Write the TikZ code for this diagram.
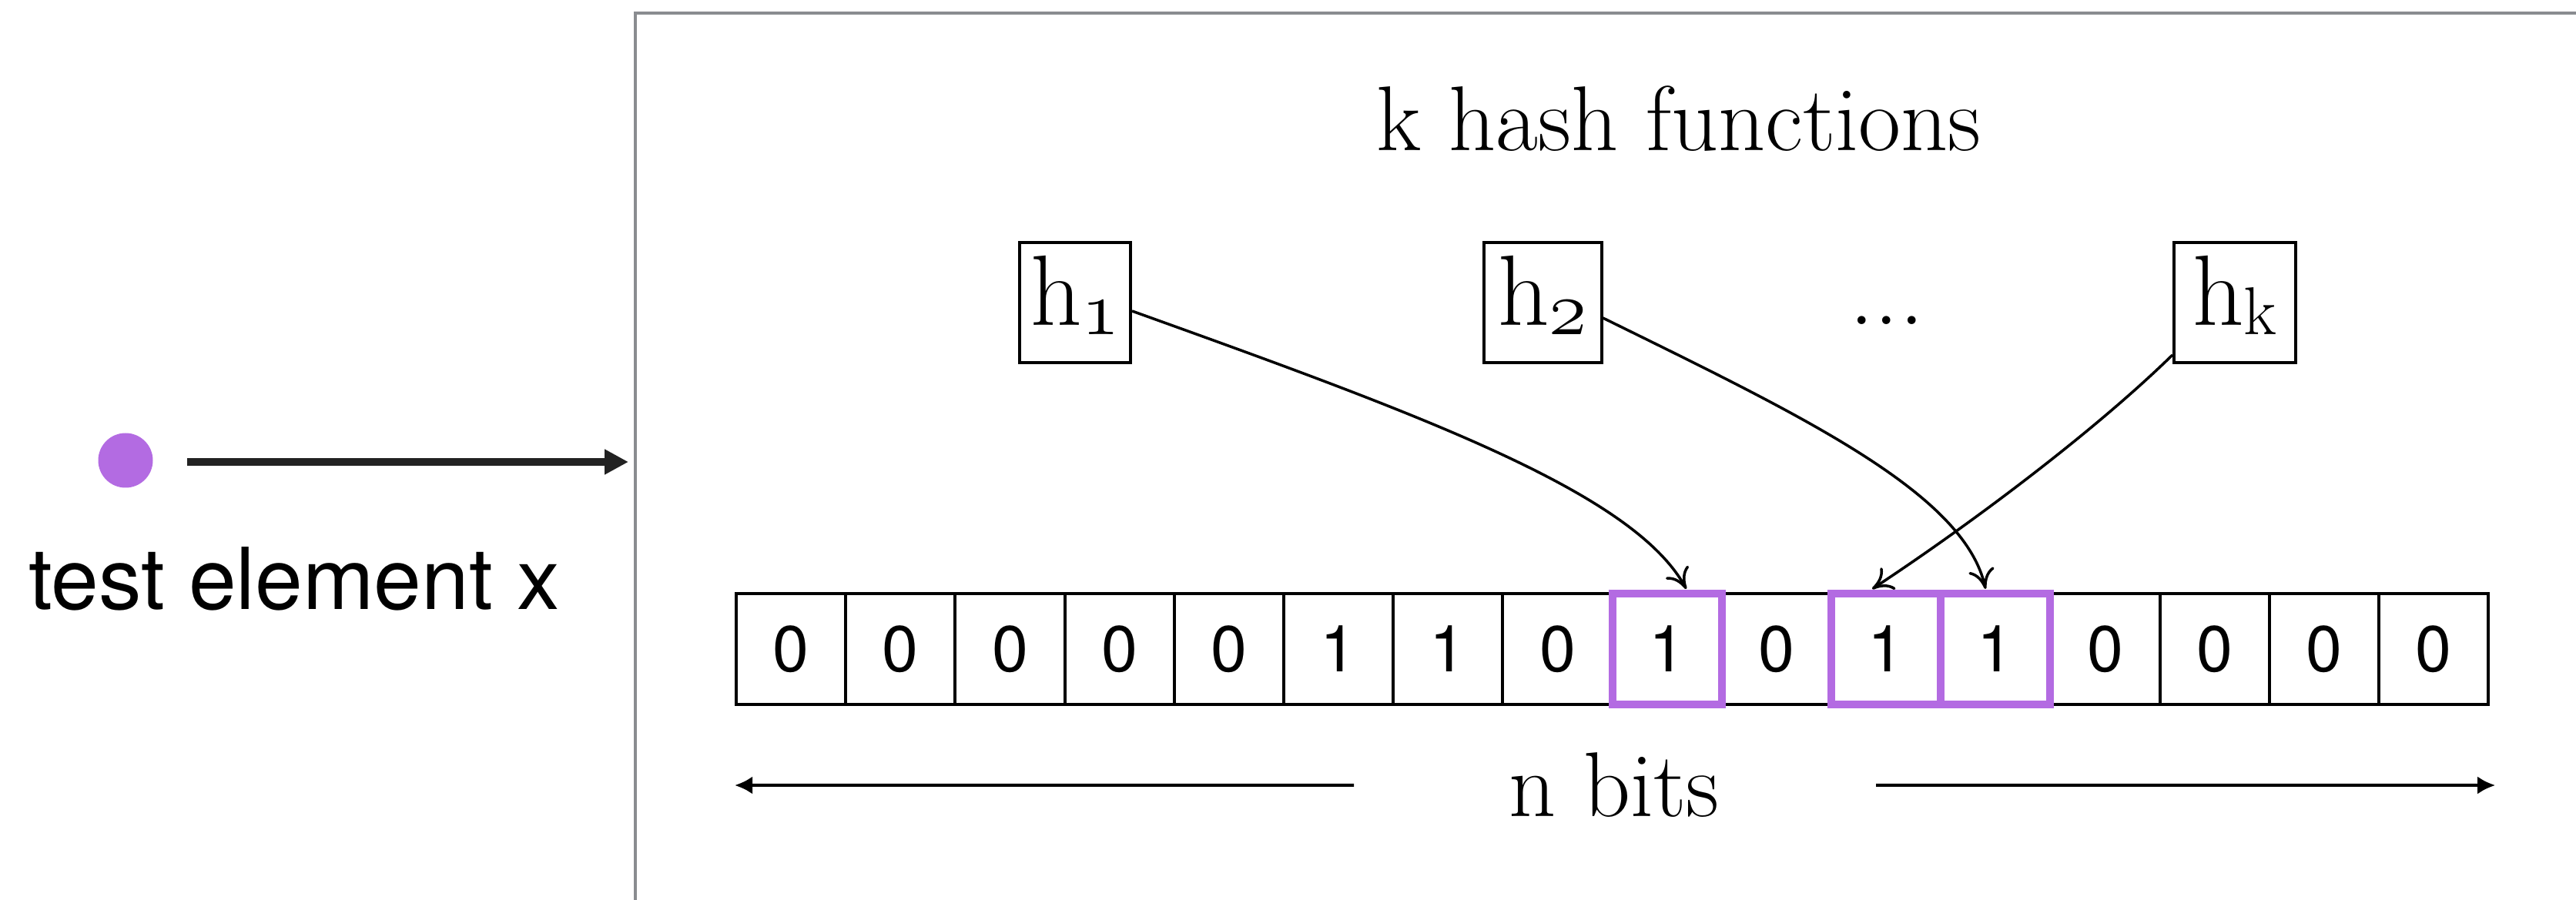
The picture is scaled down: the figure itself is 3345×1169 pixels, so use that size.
\documentclass[tikz,border=0pt]{standalone}
\usepackage{fontspec}
\setsansfont{TeX Gyre Heros}
\usetikzlibrary{arrows.meta,calc}

\definecolor{hitpurple}{RGB}{179,107,226}
\definecolor{framegray}{RGB}{138,140,144}
\definecolor{inkdark}{RGB}{34,34,34}

\newcommand{\bitsfont}{\sffamily\fontsize{24}{24}\selectfont}
\newcommand{\titlefont}{\fontsize{34}{34}\selectfont}
\newcommand{\hashfont}{\fontsize{37}{37}\selectfont}
% old-style digit taken from the math italic font, set as a subscript
\newcommand{\oldsub}[1]{\raisebox{-0.09em}{\scalebox{1.15}{\usefont{OML}{cmm}{m}{it}\fontsize{24.88}{24.88}\selectfont #1}}}
\newcommand{\romsub}[1]{\raisebox{-0.09em}{\fontsize{25}{25}\selectfont #1}}

\begin{document}
\begin{tikzpicture}[x=0.1mm,y=-0.1mm,
  hashbox/.style={draw, line width=0.4mm, inner sep=0pt, outer sep=0pt,
    minimum height=15.6mm, text height=10.8mm, text depth=4.8mm, font=\hashfont},
  bitcell/.style={draw, line width=0.4mm, inner sep=0pt, outer sep=0pt,
    minimum width=14.22mm, minimum height=14.4mm, font=\bitsfont},
  hitmark/.style={draw=hitpurple, line width=1mm},
  hasharrow/.style={line width=0.35mm,
    -{Computer Modern Rightarrow[length=2.6mm,width=3.4mm]}},
  sizearrow/.style={line width=0.4mm, -{Latex[length=2.3mm,width=2.3mm]}},
  label/.style={anchor=base, inner sep=0pt}]

\useasboundingbox (0,0) rectangle (3345,1169);

% outer filter frame (runs off the right and bottom edges)
\node[draw=framegray, line width=0.45mm, inner sep=0pt, outer sep=0pt,
      minimum width=260mm, minimum height=120mm, anchor=north west]
      (frame) at (825,17) {};

% element being tested
\node[circle, fill=hitpurple, minimum size=7.1mm, inner sep=0pt] (dot) at (163,598) {};
\node[label, font=\sffamily\fontsize{31.6}{31.6}\selectfont] (elem) at (382,792) {test element x};
\draw[inkdark, line width=1mm, -{Triangle[length=3.1mm,width=3.1mm]}]
  ($(dot.east)+(44,2)$) -- ($(frame.north west |- dot.center)+(-9,2)$);

% hash functions
\node[label, font=\titlefont] (title) at (2180,196) {k hash functions};
\node[hashbox, minimum width=14.4mm] (h1) at (1396,393) {h\oldsub{1}};
\node[hashbox, minimum width=15.3mm] (h2) at (2003,393) {h\oldsub{2}};
\node[label, font=\hashfont] (dots) at (2450,422) {...};
\node[hashbox, minimum width=15.8mm] (hk) at (2902,393) {h\romsub{k}};

% bit array
\foreach \b [count=\i from 0] in {0,0,0,0,0,1,1,0,1,0,1,1,0,0,0,0}
  \node[bitcell] (c\i) at ({956+(\i+0.5)*142.2},843) {\b};

% positions hit by the hash functions
\draw[hitmark] (c8.north west) rectangle (c8.south east);
\draw[hitmark] (c10.north west) rectangle (c10.south east);
\draw[hitmark] (c11.north west) rectangle (c11.south east);

% hash arrows
\draw[hasharrow] ($(h1.east)+(2,11)$) .. controls +(379,136) and +(-69,-125) .. ($(c8.north)+(25,-6)$);
\draw[hasharrow] ($(h2.east)+(2,20)$) .. controls +(258,127) and +(-28,-125) .. ($(c11.north)+(-13,-6)$);
\draw[hasharrow] ($(hk.south west)+(-2,-10)$) .. controls +(-100,98) and +(129,-85) .. ($(c10.north)+(-18,-6)$);

% array length
\node[label, font=\titlefont] (nbits) at (2096,1060) {n bits};
\draw[sizearrow] ($(nbits.base)+(-338,-40)$) -- ($(c0.south west)+(-2,105)$);
\draw[sizearrow] ($(nbits.base)+(340,-40)$) -- ($(c15.south east)+(9,105)$);
\end{tikzpicture}
\end{document}
